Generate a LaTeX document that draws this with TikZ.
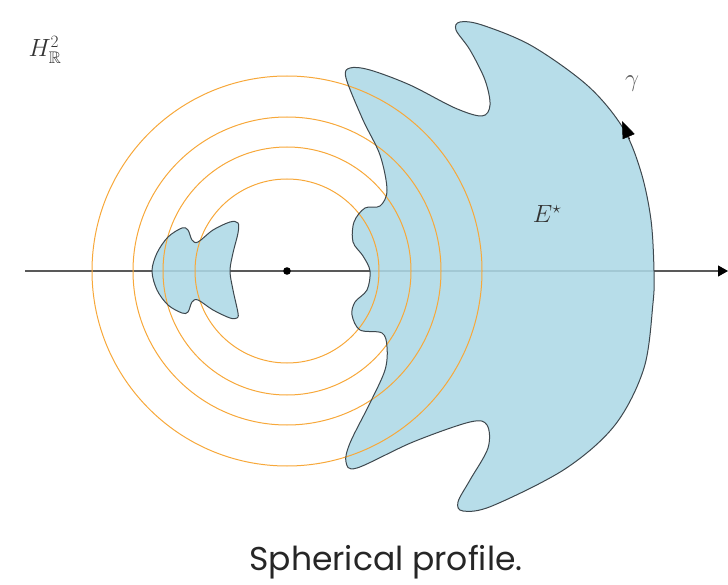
\documentclass[tikz,border=0pt]{standalone}
\usepackage{amsmath,amssymb,amsfonts}
\usepackage{fontspec}
\setsansfont{Poppins}
\usepackage{xcolor}
\usepackage{tikz}
\usetikzlibrary{arrows.meta,positioning}
\definecolor{blobblue}{RGB}{173,216,230}
\definecolor{ringorange}{RGB}{247,168,58}
\definecolor{edgegray}{RGB}{62,72,78}

\begin{document}
\begin{tikzpicture}[
  x=1pt, y=-1pt,
  blob/.style={fill=blobblue, fill opacity=0.88},
  edge/.style={draw=edgegray, line width=1pt},
  ring/.style={draw=ringorange, line width=1pt},
  axis/.style={draw=black!65, line width=1.1pt, -{Triangle[length=10pt,width=11pt,color=black]}},
  lbl/.style={font=\fontsize{24}{28}\selectfont, text=black!80}
]
\useasboundingbox (0,0) rectangle (728,585);
\coordinate (o) at (287,271);

% the axis through the centre
\coordinate (ax0) at (25,271);
\coordinate (ax1) at (728,271);
\draw[axis] (ax0) -- (ax1);

% the set E* (big part and small part)
\def\bigpart{plot[smooth cycle, tension=0.55] coordinates {
  (654,271) (651,220) (641,172) (623,128) (588,86) (532,46) (482,25)
  (460,22) (456,30) (470,50) (485,80) (490,105) (482,116) (455,108)
  (410,85) (370,70) (350,68) (346,78) (363,120) (380,155) (387,190)
  (380,206) (365,208) (354,222) (353,242) (363,256) (370,271)
  (367,290) (355,302) (352,315) (360,330) (382,333) (387,347)
  (385,370) (370,403) (350,443) (346,462) (357,468) (413,442)
  (470,422) (487,425) (488,448) (470,480) (458,502) (463,511)
  (492,506) (565,469) (615,425) (644,368) (653,303)}}
\def\smallpart{plot[smooth cycle, tension=0.55] coordinates {
  (152,271) (157,253) (168,237) (182,228) (188,230) (192,240)
  (198,242) (213,230) (230,222) (238,223) (238,233) (233,253)
  (230,271) (233,290) (238,313) (237,318) (230,318) (213,310)
  (198,300) (192,302) (188,312) (182,313) (168,305) (157,290)}}
\path[blob] \bigpart;
\path[blob] \smallpart;

% spheres around the centre
\foreach \r in {92,124,154,195}
  \draw[ring] (o) circle[radius=\r];

\draw[edge] \bigpart;
\draw[edge] \smallpart;
\fill (o) circle[radius=3.8];

% orientation of gamma
\coordinate (g0) at (629.5,138.5);
\coordinate (g1) at (622,121);
\draw[-{Triangle[length=17pt,width=13pt]}, line width=0.5pt, shorten <=-0.5pt] (g0) -- (g1);

\node[lbl] (hyp) at (45,50) {$H^2_{\mathbb{R}}$};
\node[lbl] (estar) at (547,214) {$E^{\star}$};
\node[lbl, text=black!65] (gam) at (632,84) {$\gamma$};
\node[font=\sffamily\fontsize{33}{38}\selectfont, text=black!85] (cap) at (386,562) {Spherical profile.};
\end{tikzpicture}
\end{document}
